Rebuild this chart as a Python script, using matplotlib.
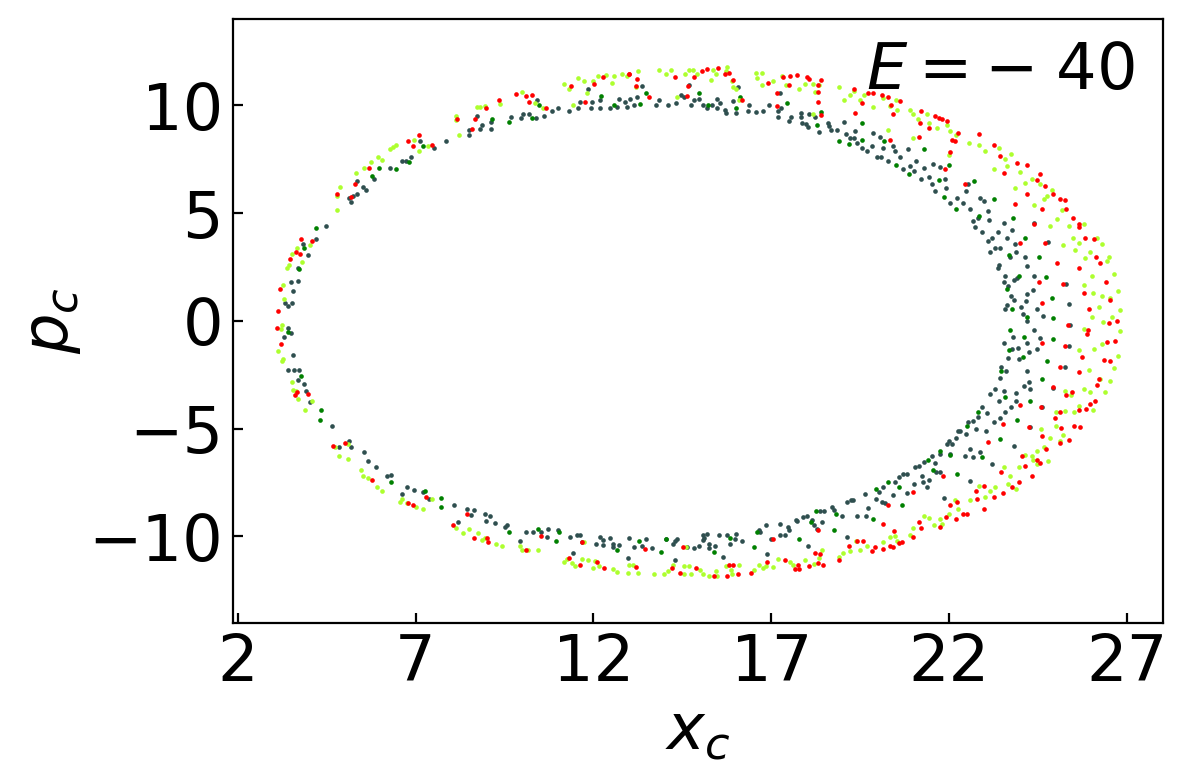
import numpy as np
import matplotlib
matplotlib.use("Agg")
import matplotlib.pyplot as plt

# points of the section as (x_c, p_c)
slate_pts = [
    (3.42, -0.31), (3.33, 0.85), (3.42, 0.69), (3.52, 0.82), (3.56, 1.39), (3.50, 1.81),
    (3.69, 1.85), (3.69, 2.44), (3.99, 3.06), (3.85, 3.58), (4.21, 3.78), (4.49, 4.40),
    (5.19, 5.51), (5.14, 5.69), (5.25, 5.79), (5.36, 5.86), (5.36, 6.48), (5.53, 6.20),
    (5.62, 6.05), (5.83, 6.56), (6.28, 7.10), (6.63, 7.41), (6.72, 7.41), (6.87, 7.62),
    (7.13, 8.32), (7.52, 8.02), (7.87, 8.33), (8.49, 8.60), (8.51, 8.87), (8.72, 9.48),
    (8.80, 8.92), (8.86, 9.07), (9.11, 8.92), (9.13, 9.20), (9.67, 9.46), (9.96, 9.43),
    (10.01, 9.58), (10.20, 9.61), (10.40, 9.40), (10.41, 10.22), (10.62, 9.49), (10.85, 9.75),
    (11.00, 9.85), (11.32, 9.71), (11.58, 9.85), (11.63, 10.15), (11.86, 10.73), (11.92, 9.85),
    (11.95, 10.15), (12.19, 10.22), (12.19, 9.85), (12.46, 9.85), (12.66, 9.91), (12.73, 10.29),
    (12.90, 10.15), (12.94, 9.91),
    (13.23, 10.39), (13.37, 10.91), (13.03, 10.31), (13.14, 10.00), (13.75, 10.00), (13.84, 10.25),
    (14.11, 10.03), (14.33, 10.08), (14.45, 10.46), (14.55, 10.39), (14.69, 10.96), (14.75, 10.00),
    (14.83, 10.22), (14.96, 10.31), (15.09, 10.03), (15.20, 9.85), (15.34, 10.00), (15.46, 9.85),
    (15.48, 10.31), (15.56, 10.11), (15.70, 9.80), (15.72, 9.65), (15.91, 10.19), (16.05, 10.83),
    (16.00, 9.65), (16.34, 9.72), (16.38, 10.00), (16.56, 9.69), (16.78, 9.72), (16.93, 10.03),
    (17.23, 10.57), (17.20, 9.72), (17.26, 9.85), (17.18, 9.44), (17.49, 9.26), (17.55, 9.44),
    (17.83, 9.65), (17.83, 9.44), (17.85, 9.18), (17.98, 9.14), (18.04, 9.01), (18.07, 9.57),
    (18.24, 9.44), (18.34, 8.77), (18.58, 9.18), (18.63, 9.03), (18.67, 8.83), (18.84, 8.83),
    (19.05, 9.20), (19.10, 8.67), (19.21, 8.46), (19.31, 8.46), (19.36, 8.80), (19.42, 8.26),
    (19.54, 8.02), (19.68, 7.90), (19.82, 8.10), (19.87, 8.72), (19.96, 7.59), (20.06, 8.52),
    (20.08, 7.59), (20.15, 8.02), (20.29, 7.41), (20.41, 8.10), (20.48, 7.90), (20.62, 7.59),
    (20.69, 7.02), (20.85, 7.99), (20.90, 7.18), (21.01, 6.94), (21.07, 7.41), (21.20, 6.56),
    (21.28, 7.10), (21.42, 6.67), (21.53, 6.36), (21.54, 7.28), (21.60, 6.02), (21.74, 7.13),
    (21.88, 6.56), (21.91, 6.17), (22.03, 5.48), (22.21, 5.71),
    (22.48, 6.02), (22.52, 6.36), (22.38, 5.48), (22.59, 5.17), (22.67, 4.63), (22.80, 4.76),
    (22.87, 5.71), (22.98, 5.56), (23.08, 5.10), (23.11, 4.67), (22.73, 4.36), (22.92, 4.14),
    (23.08, 3.71), (23.20, 3.86), (23.36, 4.10), (23.29, 3.40), (23.43, 3.40), (23.15, 3.21),
    (23.55, 4.56), (23.62, 3.83), (23.76, 4.20), (23.86, 3.55), (23.88, 3.21), (23.70, 2.94),
    (23.39, 2.60), (23.36, 2.47), (23.57, 2.09), (23.55, 1.78), (23.65, 1.63), (23.81, 1.89),
    (23.90, 2.01), (23.73, 1.16), (23.83, 0.96), (23.62, 0.75), (23.57, 0.55), (24.02, 0.65),
    (24.16, 0.90), (24.18, 1.24), (24.35, 1.42), (24.39, 2.09), (24.18, 2.55), (24.14, 2.97),
    (24.07, 0.34), (24.18, 0.00), (24.46, 0.55), (24.63, 0.24), (24.37, -0.43), (23.79, -0.77),
    (23.55, -1.04), (23.76, -1.31), (23.92, -1.26), (24.18, -1.04), (24.23, -1.46), (24.46, -1.31),
    (24.56, -0.80), (23.64, -1.72), (23.95, -1.77), (23.45, -2.16), (23.60, -2.31), (24.18, -2.31),
    (23.43, -2.65), (25.29, 1.70), (25.36, 0.78), (25.40, -0.18), (25.36, -1.18), (25.26, -2.16),
    (24.79, 3.68), (24.37, 4.53),
    (23.15, -3.40), (23.29, -3.16), (23.39, -3.70), (23.55, -3.27), (23.74, -3.98), (23.88, -3.73),
    (23.88, -3.36), (23.57, -4.24), (23.43, -4.51), (23.25, -4.71), (23.06, -4.29), (22.92, -3.98),
    (22.80, -4.44), (22.67, -4.63), (22.54, -4.71), (22.76, -5.02), (23.04, -5.12), (22.48, -5.25),
    (22.31, -5.12), (22.87, -6.10), (22.59, -5.94), (22.43, -6.25), (22.68, -6.33), (23.20, -6.64),
    (22.59, -7.45), (24.26, -3.16), (24.23, -2.85), (24.11, -3.01), (23.83, -5.79), (24.26, -4.94),
    (24.93, -3.10), (24.62, -3.98),
    (13.14, -10.49), (13.36, -10.46), (13.48, -10.11), (13.64, -10.53), (14.04, -10.12), (14.29, -10.22),
    (14.36, -10.11), (14.25, -10.37), (14.29, -11.11), (14.62, -10.49), (14.83, -10.53), (14.98, -10.46),
    (15.07, -10.16), (15.07, -9.95), (15.20, -9.88), (15.11, -10.06), (15.25, -10.34), (15.26, -10.53),
    (15.42, -10.42), (15.54, -9.95), (15.65, -10.96), (15.75, -9.95), (15.84, -10.34), (16.00, -9.88),
    (15.98, -10.11), (16.17, -10.19), (16.64, -9.72), (16.68, -9.80), (16.85, -9.49), (16.89, -10.80),
    (16.98, -10.11), (17.25, -9.41), (17.25, -9.95), (17.39, -9.95), (17.48, -9.54), (17.51, -9.72),
    (17.70, -9.23), (17.73, -9.26), (17.88, -9.11), (18.01, -9.03), (18.04, -10.42), (18.14, -9.23),
    (18.20, -9.49), (18.28, -9.65), (18.37, -8.80), (18.48, -8.80), (18.42, -9.34), (18.70, -8.64),
    (18.76, -8.77), (18.98, -9.03), (19.12, -8.41), (19.23, -8.30), (19.12, -10.03), (19.29, -8.33),
    (19.42, -9.03), (19.64, -8.03), (19.66, -9.03), (19.73, -8.67), (19.94, -8.26), (20.04, -7.95),
    (20.10, -8.41), (20.20, -8.46), (20.15, -7.72), (20.43, -8.06), (20.48, -7.49), (20.60, -7.22),
    (20.71, -7.10), (20.82, -7.10), (20.81, -7.99), (21.00, -7.56), (21.04, -6.76), (21.16, -6.71),
    (21.23, -7.18), (21.26, -7.49), (21.28, -6.56), (21.37, -7.69), (21.44, -7.38), (21.51, -6.25),
    (21.60, -6.61), (21.63, -7.02), (21.74, -7.02), (21.86, -8.21), (21.93, -5.71), (21.98, -5.56),
    (22.07, -5.71), (22.19, -5.43), (22.26, -5.09), (21.74, -6.17), (22.03, -6.17),
    (3.50, -0.57), (3.30, -0.74), (3.56, -1.57), (3.42, -2.28), (3.58, -2.28), (3.73, -2.28),
    (3.71, -2.75), (3.86, -2.93), (3.91, -3.24), (4.03, -3.75), (4.66, -4.86), (4.86, -5.83),
    (5.14, -5.56), (5.20, -5.83), (5.55, -6.10), (5.67, -6.48), (5.89, -6.76), (6.21, -7.18),
    (6.30, -7.13), (6.63, -8.03), (6.77, -7.69), (6.96, -7.84), (7.22, -7.96), (7.39, -8.26),
    (8.09, -8.56), (8.20, -9.31), (8.46, -8.72), (8.55, -8.99), (8.65, -8.77), (8.94, -8.95),
    (9.08, -9.03), (8.98, -9.26), (9.22, -9.37), (9.52, -9.54), (9.58, -9.49), (9.94, -10.19),
    (10.11, -9.77), (10.29, -9.80), (10.52, -9.80), (10.69, -10.03), (10.71, -9.65), (11.00, -9.72),
    (11.34, -10.03), (11.44, -10.76), (11.53, -9.95), (11.61, -9.91), (11.67, -10.26), (12.07, -10.34),
    (12.19, -10.03), (12.26, -10.15), (12.26, -10.39), (12.47, -10.06), (12.54, -10.49), (12.56, -10.34),
    (12.73, -10.39), (12.96, -10.99), (13.01, -10.06),
]

green_pts = [
    (3.73, 2.39), (3.86, 3.36), (4.21, 4.29), (5.79, 6.71), (5.98, 7.07), (6.46, 7.02),
    (6.83, 7.35), (7.22, 8.09), (9.14, 9.38), (9.64, 9.20), (10.27, 9.43), (10.48, 10.00),
    (12.22, 10.45), (12.59, 10.00),
    (13.32, 10.06), (13.47, 10.57), (14.98, 10.57), (15.21, 10.00), (16.00, 9.85), (16.13, 10.40),
    (17.43, 10.11), (18.29, 9.10), (18.40, 9.69), (18.89, 8.36), (19.17, 8.21), (19.54, 9.18),
    (19.54, 8.41), (20.18, 8.36), (20.50, 7.25), (20.88, 6.79), (21.29, 7.95), (21.70, 6.51),
    (21.84, 5.74), (21.98, 7.25), (22.19, 5.17),
    (23.79, 4.76), (24.14, 3.86), (24.51, 2.97), (24.72, 2.04), (24.89, 1.05), (24.91, 0.13),
    (24.91, -0.84), (24.76, -1.85), (23.67, 3.06), (23.62, 1.50), (23.76, 0.55), (23.71, -0.43),
    (24.11, -0.74), (24.07, -1.66), (23.67, -1.35), (24.18, 0.19), (22.85, 4.87), (23.25, 5.64),
    (22.71, 6.49), (23.95, 2.06), (23.46, -2.31), (24.61, -2.70),
    (24.26, -3.73), (23.90, -4.60), (23.42, -5.48), (22.80, -4.24), (22.50, -4.86), (22.91, -6.30),
    (23.56, -3.52),
    (13.29, -10.19), (13.90, -10.73), (14.04, -10.11), (15.39, -10.73), (15.84, -10.06), (16.50, -10.49),
    (16.61, -9.80), (17.79, -10.14), (18.11, -9.31), (18.26, -8.84), (18.77, -9.69), (18.82, -8.95),
    (19.85, -9.18), (19.94, -7.79), (20.29, -7.49), (20.60, -7.69), (20.67, -8.56), (21.39, -6.45),
    (21.54, -6.91), (21.74, -6.02), (22.03, -6.20), (22.23, -7.10),
    (3.43, -0.54), (3.79, -2.56), (4.34, -4.14), (4.31, -4.60), (6.32, -7.47), (7.27, -7.87),
    (7.71, -8.21), (7.71, -8.64), (9.64, -9.77), (10.43, -9.65), (10.95, -10.23), (11.04, -9.80),
    (12.67, -10.65),
]

yellow_pts = [
    (3.22, -0.39), (3.26, -0.19), (3.31, 1.00), (3.28, 1.65), (3.38, 2.44), (3.45, 2.59),
    (3.54, 3.09), (3.68, 3.36), (3.81, 2.73), (4.04, 3.52), (4.80, 5.14), (4.78, 5.77),
    (4.88, 6.19), (5.33, 6.84), (5.56, 7.11), (5.76, 7.35), (5.94, 7.59), (6.05, 7.48),
    (6.29, 7.99), (6.38, 8.07), (6.46, 8.16), (6.95, 8.41), (7.10, 7.87), (7.36, 8.10),
    (8.13, 9.48), (8.14, 9.31), (8.23, 8.64), (8.73, 9.91), (8.80, 9.94), (8.95, 9.98),
    (9.38, 10.06), (9.98, 10.60), (10.35, 10.12), (10.59, 9.85), (11.18, 10.97), (11.30, 10.74),
    (11.44, 10.03), (11.56, 11.27), (11.74, 11.14), (11.81, 10.57), (11.98, 11.14), (12.12, 11.37),
    (12.36, 11.42), (12.52, 11.03), (12.59, 11.34), (12.80, 11.45), (12.94, 11.34),
    (13.26, 11.57), (13.20, 10.83), (13.83, 11.62), (14.04, 11.47), (14.18, 11.65), (14.34, 10.39),
    (14.57, 11.45), (14.70, 11.65), (14.79, 11.65), (14.90, 11.45), (15.30, 11.19), (15.35, 11.65),
    (15.45, 11.45), (15.72, 11.57), (15.75, 11.76), (15.89, 11.14), (15.93, 10.83), (16.00, 10.77),
    (16.09, 10.22), (16.57, 11.50), (16.73, 11.50), (16.61, 11.27), (16.73, 10.96), (17.06, 11.14),
    (17.29, 11.34), (17.41, 10.96), (17.79, 10.77), (17.94, 11.00), (18.18, 11.00), (18.35, 10.96),
    (18.16, 9.60), (18.23, 10.62), (18.91, 10.83), (19.05, 10.22), (19.21, 10.46), (19.33, 10.68),
    (19.48, 10.26), (19.61, 10.46), (19.87, 9.91), (20.13, 10.34), (20.34, 9.95), (20.51, 10.22),
    (20.53, 9.80), (20.90, 9.80), (20.98, 9.57), (21.11, 9.34), (21.37, 9.57), (21.42, 9.18),
    (21.65, 8.95), (21.93, 9.07), (22.01, 8.80), (22.19, 8.64), (20.99, 8.46), (20.29, 8.83),
    (21.98, 7.69),
    (22.57, 8.26), (22.85, 8.15), (23.01, 7.88), (23.25, 7.03), (23.39, 8.03), (23.57, 7.49),
    (23.73, 7.75), (23.62, 7.18), (23.86, 6.15), (24.00, 6.92), (24.14, 6.41), (24.32, 6.56),
    (24.39, 5.38), (24.54, 6.33), (24.65, 5.64), (24.75, 5.79), (24.89, 6.05), (24.82, 4.40),
    (25.03, 4.71), (25.17, 5.13), (25.20, 3.52), (25.36, 4.40), (25.48, 3.86), (25.54, 3.28),
    (25.66, 3.63), (25.80, 4.51), (25.82, 2.91), (25.95, 3.17), (26.15, 3.86), (26.29, 3.55),
    (26.43, 2.78), (26.48, 2.94), (26.62, 2.17), (26.00, 2.09), (25.80, 1.67), (26.04, 1.27),
    (26.29, 1.16), (26.51, 1.08), (26.73, 1.39), (26.81, 0.50), (26.20, 0.65), (26.01, 0.19),
    (26.32, -0.07), (26.57, 0.16), (26.81, -0.46), (25.80, -0.38), (25.66, -1.35), (26.06, -1.31),
    (26.29, -1.08), (26.73, -1.62), (25.92, -2.28), (26.62, -2.19), (26.25, -2.70),
    (25.26, -3.24), (25.42, -3.43), (25.80, -3.16), (25.96, -3.32), (26.39, -3.29), (26.51, -2.78),
    (26.04, -4.12), (25.66, -3.94), (25.50, -4.21), (25.26, -4.20), (25.00, -4.24), (25.01, -4.86),
    (24.84, -5.43), (25.12, -5.56), (25.20, -5.28), (24.58, -5.02), (24.46, -6.02), (24.65, -5.83),
    (24.32, -6.25), (24.35, -6.45), (24.46, -6.64), (24.79, -6.51), (24.14, -6.20), (23.95, -6.76),
    (23.53, -6.79), (23.70, -7.18), (23.64, -7.56), (23.88, -7.79), (23.29, -7.72), (23.15, -7.90),
    (23.01, -8.15), (22.85, -7.64), (22.59, -8.30),
    (13.10, -11.30), (13.26, -11.70), (13.71, -11.76), (13.97, -11.73), (14.11, -11.61), (14.25, -11.34),
    (14.55, -11.39), (14.55, -11.73), (14.70, -11.37), (14.74, -11.73), (15.00, -11.57), (15.09, -11.73),
    (15.26, -11.85), (15.46, -11.81), (15.45, -11.61), (15.73, -11.39), (15.86, -11.54), (15.89, -11.73),
    (16.10, -11.34), (14.60, -10.49), (16.52, -11.54), (16.66, -11.34), (16.78, -11.45), (16.85, -11.39),
    (17.06, -11.42), (17.20, -11.03), (17.53, -11.19), (17.62, -11.30), (17.95, -11.11), (18.20, -11.27),
    (18.35, -10.99), (18.42, -10.62), (18.89, -10.96), (19.01, -10.77), (19.21, -10.68), (19.38, -10.22),
    (19.48, -10.65), (19.68, -10.42), (20.15, -10.26), (20.34, -10.03), (20.48, -10.00), (20.53, -10.22),
    (20.90, -9.95), (20.99, -9.60), (21.29, -9.03), (21.44, -9.14), (21.56, -9.49), (21.73, -9.18),
    (21.79, -9.41), (21.98, -8.95), (22.17, -8.33), (22.26, -8.72),
    (3.14, -1.42), (3.26, -1.85), (3.28, -1.77), (3.53, -2.82), (3.56, -3.21), (3.64, -3.27),
    (3.71, -3.63), (3.90, -4.12), (4.08, -3.70), (4.75, -5.86), (4.86, -6.25), (5.11, -6.40),
    (5.11, -5.71), (5.47, -6.94), (5.51, -7.21), (5.67, -7.28), (5.93, -7.69), (6.07, -7.87),
    (6.56, -8.38), (6.61, -8.26), (6.75, -8.46), (7.01, -8.64), (7.22, -8.72), (7.45, -8.26),
    (8.14, -9.60), (8.34, -9.85), (8.49, -9.65), (8.77, -9.85), (8.86, -10.15), (8.95, -10.06),
    (9.25, -10.34), (9.42, -10.42), (9.94, -10.46), (9.98, -10.65), (10.17, -10.62), (10.45, -10.62),
    (11.18, -11.19), (11.25, -11.03), (11.39, -11.23), (11.48, -11.39), (11.67, -11.03), (11.74, -10.26),
    (11.86, -11.08), (12.00, -11.45), (12.05, -11.14), (12.17, -11.39), (12.54, -11.50), (12.67, -11.65),
    (13.01, -11.30), (12.97, -11.68),
]

red_pts = [
    (3.10, -0.35), (3.14, 0.46), (3.18, 1.48), (3.48, 2.85), (3.64, 3.18), (3.76, 3.09),
    (3.78, 3.78), (4.10, 3.70), (4.80, 5.86), (5.19, 5.76), (5.31, 6.33), (5.70, 7.11),
    (6.80, 8.32), (6.94, 8.13), (7.11, 8.60), (7.45, 8.15), (8.16, 9.38), (8.60, 8.92),
    (8.66, 9.34), (8.98, 9.85), (9.34, 10.26), (9.82, 10.52), (10.11, 10.45), (10.20, 10.17),
    (10.28, 10.49), (10.66, 9.89), (11.37, 10.90), (11.77, 10.15), (12.03, 10.99), (12.28, 11.33),
    (13.00, 11.45),
    (13.01, 11.47), (13.22, 11.23), (13.20, 10.88), (13.57, 10.40), (14.30, 11.33), (14.65, 10.90),
    (14.64, 10.42), (14.84, 11.30), (15.04, 11.57), (15.18, 11.70), (15.51, 11.73), (15.70, 11.45),
    (15.82, 11.51), (15.93, 11.19), (16.17, 10.22), (16.92, 11.03), (17.17, 10.57), (17.15, 9.95),
    (17.32, 11.30), (17.53, 11.34), (17.51, 10.93), (17.71, 11.39), (17.99, 11.30), (18.07, 11.23),
    (18.30, 10.93), (18.40, 11.19), (18.30, 10.62), (18.30, 10.15), (18.40, 9.54), (19.31, 10.77),
    (19.54, 10.11), (19.73, 10.57), (19.87, 10.57), (20.10, 10.46), (20.29, 10.37), (20.36, 10.00),
    (20.41, 9.61), (20.62, 10.19), (19.34, 9.65), (21.18, 9.18), (21.21, 9.72), (21.42, 8.95),
    (21.60, 9.49), (21.70, 9.41), (21.79, 9.34), (21.93, 9.26), (21.16, 8.52), (20.34, 8.41),
    (22.03, 7.84), (22.07, 8.41), (21.88, 7.02), (22.17, 8.33), (22.26, 8.72),
    (22.45, 6.33), (22.85, 8.68), (23.25, 8.15), (23.43, 7.64), (23.55, 6.87), (23.90, 7.33),
    (24.18, 7.23), (24.20, 5.90), (24.46, 6.52), (24.54, 6.83), (24.70, 6.26), (24.91, 5.90),
    (25.10, 5.64), (25.26, 5.59), (24.61, 5.17), (23.86, 5.41), (24.68, 3.59), (24.39, 4.51),
    (25.29, 5.17), (25.48, 4.79), (25.64, 4.48), (25.66, 4.33), (25.82, 3.83), (26.06, 3.78),
    (26.13, 2.94), (26.25, 2.70), (25.64, 2.47), (25.20, 1.70), (25.03, 2.67), (25.80, 1.27),
    (25.93, 0.55), (26.41, 1.78), (26.53, 0.96), (26.71, 0.00), (26.48, -0.12), (26.43, -0.99),
    (26.34, -1.82), (25.89, -0.43), (25.87, -0.61), (25.73, -1.66), (25.64, -2.39), (26.20, -2.70),
    (26.67, -0.95), (25.33, -0.18), (25.26, -1.15), (25.12, -2.16), (24.61, 0.85), (24.61, -1.04),
    (24.51, 1.78), (23.98, 3.63), (26.53, -1.85),
    (24.93, -3.06), (24.98, -4.51), (25.12, -4.24), (25.29, -3.43), (25.45, -3.32), (25.66, -4.14),
    (25.84, -4.09), (25.95, -3.86), (26.10, -3.73), (26.15, -2.96), (25.51, -4.86), (25.68, -4.91),
    (25.36, -5.52), (25.12, -5.68), (25.14, -4.97), (24.58, -3.98), (24.60, -5.32), (24.23, -4.94),
    (24.73, -5.94), (24.54, -6.61), (24.46, -6.45), (24.32, -7.18), (24.14, -6.71), (24.04, -6.25),
    (23.95, -7.48), (23.76, -7.69), (23.45, -7.02), (23.50, -8.00), (23.27, -8.18), (22.98, -7.64),
    (22.75, -7.90), (22.78, -8.26), (22.98, -8.72), (23.09, -5.60), (23.50, -4.78), (23.98, -3.89),
    (22.50, -8.98), (22.38, -8.98),
    (13.20, -11.42), (13.45, -10.57), (14.20, -11.45), (14.42, -11.70), (14.51, -10.49), (14.88, -11.45),
    (15.39, -11.81), (15.76, -11.81), (15.82, -11.30), (15.93, -11.34), (16.05, -11.76), (16.42, -11.70),
    (16.87, -11.19), (17.04, -10.11), (17.39, -11.08), (17.67, -11.50), (17.76, -11.30), (17.79, -11.50),
    (18.07, -11.39), (18.23, -10.77), (18.37, -10.83), (18.32, -11.23), (18.46, -11.30), (18.89, -11.08),
    (19.19, -10.46), (19.40, -10.22), (19.59, -10.22), (19.82, -10.68), (19.92, -10.49), (20.15, -10.57),
    (20.34, -10.46), (20.43, -10.49), (20.60, -10.31), (20.67, -10.26), (20.13, -9.44), (20.45, -9.75),
    (20.99, -10.03), (21.16, -9.31), (21.20, -9.60), (21.74, -9.54), (21.91, -9.11), (22.01, -8.56),
    (22.19, -9.18), (22.23, -8.41), (21.82, -7.18), (20.98, -7.95), (20.27, -8.56), (18.30, -9.69),
    (3.22, -1.08), (3.61, -3.43), (3.66, -3.32), (3.97, -3.40), (4.67, -5.82), (5.02, -5.66),
    (5.77, -7.38), (6.80, -8.46), (6.92, -8.53), (7.30, -8.18), (8.04, -9.46), (8.46, -8.95),
    (8.65, -10.06), (9.02, -10.06), (9.03, -10.26), (10.11, -10.62), (10.52, -9.99), (11.30, -10.99),
    (11.61, -11.30), (11.67, -10.26), (12.11, -11.19), (12.31, -11.45),
]

series = [
    (slate_pts, "darkslategray"),
    (green_pts, "green"),
    (yellow_pts, "greenyellow"),
    (red_pts, "red"),
]

fig = plt.figure(figsize=(5.965, 3.92), dpi=200)
ax = fig.add_axes([0.195, 0.2057, 0.7796, 0.7701])

for pts, col in series:
    arr = np.array(pts)
    ax.scatter(arr[:, 0], arr[:, 1], s=2.8, c=col, linewidths=0)

ax.set_xlim(1.86, 28.0)
ax.set_ylim(-14, 14)
ax.set_xticks([2, 7, 12, 17, 22, 27])
ax.set_yticks([-10, -5, 0, 5, 10])
ax.tick_params(direction="in", labelsize=23)
ax.set_xlabel("$x_c$", fontsize=23, labelpad=2)
ax.set_ylabel("$p_c$", fontsize=23, labelpad=2)
ax.text(0.97, 0.965, r"$E=-\;40$", transform=ax.transAxes, ha="right", va="top", fontsize=23)

fig.savefig("out.png", dpi=200)
